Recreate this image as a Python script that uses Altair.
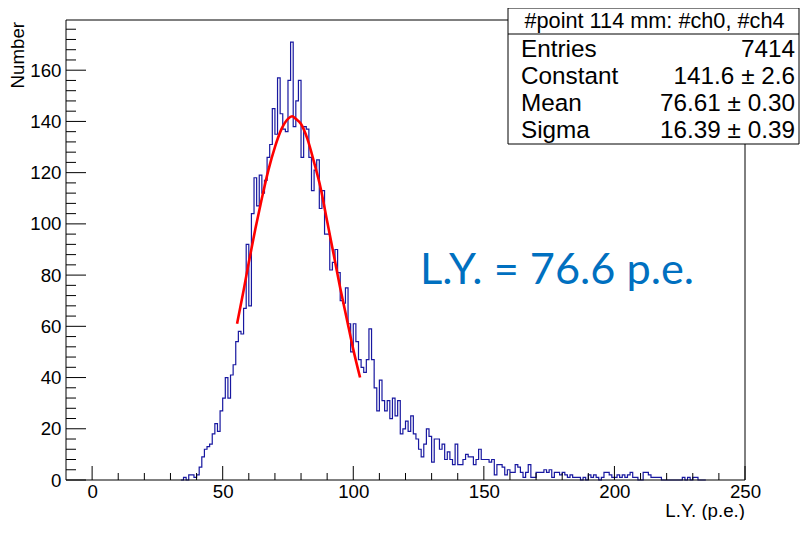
import altair as alt
import pandas as pd

# ---------------- data ----------------
FIRST_BIN = 34          # lower edge of first listed bin, bin width = 1 p.e.
counts_34_60 = [0, 1, 0, 2, 2, 1, 2, 5, 9, 12, 13, 14, 18, 22, 19, 27, 32, 40, 32, 41,
                45, 54, 58, 57, 67, 92, 68]
counts_61_88 = [104, 118, 107, 119, 112, 117, 126, 131, 145, 135, 157, 143, 137, 136,
                156, 171, 138, 148, 156, 126, 138, 137, 126, 113, 121, 125, 106, 113]
counts_89_117 = [96, 96, 82, 85, 90, 81, 70, 69, 75, 61, 50, 61, 54, 47, 44, 42, 47, 59,
                 47, 36, 27, 39, 31, 27, 31, 24, 32, 25, 31]
counts_118_153 = [18, 20, 23, 19, 25, 18, 16, 12, 9, 14, 20, 17, 7, 16, 16, 12, 14, 8,
                  11, 8, 6, 14, 6, 6, 8, 10, 9, 9, 6, 8, 12, 8, 8, 8, 7, 8]
counts_154_189 = [2, 6, 6, 5, 2, 4, 3, 3, 6, 5, 3, 1, 3, 6, 1, 1, 3, 3, 3, 4,
                  3, 4, 1, 3, 3, 2, 3, 2, 1, 2, 1, 1, 1, 0, 1, 0]
counts_190_234 = [2, 1, 2, 1, 0, 1, 3, 3, 2, 1, 1, 2, 1, 2, 1, 2, 3, 1, 1, 0,
                  0, 3, 3, 2, 1, 1, 1, 1, 0, 0, 0, 0, 0, 0, 0, 0, 1, 0, 1, 0,
                  1, 1, 0, 0, 0]

# red fit curve
fit_x = [55.5, 58, 60, 62.5, 65, 67.5, 70, 72.5, 75, 76.6, 78, 80, 82.5, 85, 87.5,
         90, 92.5, 95, 97.5, 100, 102.6]
fit_y = [61, 74, 85, 98, 110, 121, 130, 137, 141, 142, 141, 139, 133, 124, 114,
         101, 88, 75, 63, 51, 40]

stat_title = "#point 114 mm: #ch0, #ch4"
stat_names = ["Entries", "Constant", "Mean", "Sigma"]
stat_values = ["7414", "141.6 \u00b1 2.6", "76.61 \u00b1 0.30", "16.39 \u00b1 0.39"]
annotation = "L.Y. = 76.6 p.e."

x_major = [0, 50, 100, 150, 200, 250]
x_minor = [v for v in range(10, 250, 10) if v % 50 != 0]
y_major = [0, 20, 40, 60, 80, 100, 120, 140, 160]
y_minor = [v for v in range(4, 180, 4) if v % 20 != 0]
x_title = "L.Y. (p.e.)"
y_title = "Number"

# ---------------- build ----------------
counts = counts_34_60 + counts_61_88 + counts_89_117 + counts_118_153 + counts_154_189 + counts_190_234
edges = [FIRST_BIN + i for i in range(len(counts) + 1)]
hist_df = pd.DataFrame({"edge": edges, "count": counts + [counts[-1]]})
fit_df = pd.DataFrame({"x": fit_x, "y": fit_y})

W, H = 679, 460
FONT = "Liberation Sans"
xs = alt.Scale(domain=[-10, 250], nice=False, zero=False)
ys = alt.Scale(domain=[0, 179.6], nice=False, zero=False)

hist = alt.Chart(hist_df).mark_line(
    interpolate="step-after", color="#1818a0", strokeWidth=1.2
).encode(
    x=alt.X("edge:Q", scale=xs,
            axis=alt.Axis(values=x_major, ticks=False, domain=False, grid=False,
                          labelFont=FONT, labelFontSize=18.7, labelColor="black",
                          labelPadding=2, labelFlush=False, title=None)),
    y=alt.Y("count:Q", scale=ys,
            axis=alt.Axis(values=y_major, ticks=False, domain=False, grid=False,
                          labelFont=FONT, labelFontSize=18.7, labelColor="black",
                          labelPadding=5, labelFlush=False, title=None)),
)

fit = alt.Chart(fit_df).mark_line(color="#ff0000", strokeWidth=2.6, interpolate="monotone").encode(
    x=alt.X("x:Q", scale=xs), y=alt.Y("y:Q", scale=ys)
)

frame = alt.Chart().mark_rect(fill=None, stroke="black", strokeWidth=1).encode(
    x=alt.value(0), x2=alt.value(W), y=alt.value(0), y2=alt.value(H)
)

xt_major = alt.Chart(pd.DataFrame({"v": x_major})).mark_rule(color="black", strokeWidth=1).encode(
    x=alt.X("v:Q", scale=xs), y=alt.value(H), y2=alt.value(H - 14))
xt_minor = alt.Chart(pd.DataFrame({"v": x_minor})).mark_rule(color="black", strokeWidth=1).encode(
    x=alt.X("v:Q", scale=xs), y=alt.value(H), y2=alt.value(H - 7))
yt_major = alt.Chart(pd.DataFrame({"v": y_major})).mark_rule(color="black", strokeWidth=1).encode(
    y=alt.Y("v:Q", scale=ys), x=alt.value(0), x2=alt.value(20))
yt_minor = alt.Chart(pd.DataFrame({"v": y_minor})).mark_rule(color="black", strokeWidth=1).encode(
    y=alt.Y("v:Q", scale=ys), x=alt.value(0), x2=alt.value(10))

xtitle = alt.Chart().mark_text(font=FONT, fontSize=18.7, align="right", baseline="alphabetic").encode(
    x=alt.value(W), y=alt.value(H + 37), text=alt.value(x_title))
ytitle = alt.Chart().mark_text(font=FONT, fontSize=18.7, align="right", baseline="middle", angle=270).encode(
    x=alt.value(-48), y=alt.value(2), text=alt.value(y_title))

# stats box
BX0, BX1, BY0, BY1 = 442, 733, -12, 124
box = alt.Chart().mark_rect(fill="white", stroke="black", strokeWidth=1).encode(
    x=alt.value(BX0), x2=alt.value(BX1), y=alt.value(BY0), y2=alt.value(BY1))
sep = alt.Chart().mark_rule(color="black", strokeWidth=1).encode(
    x=alt.value(BX0), x2=alt.value(BX1), y=alt.value(14))
box_title = alt.Chart().mark_text(font=FONT, fontSize=21.7, align="center", baseline="middle").encode(
    x=alt.value((BX0 + BX1) / 2 + 1), y=alt.value(1), text=alt.value(stat_title))
stat_layers = []
for i, (n, v) in enumerate(zip(stat_names, stat_values)):
    yy = 30 + 27 * i
    stat_layers.append(alt.Chart().mark_text(font=FONT, fontSize=24.3, align="left", baseline="middle").encode(
        x=alt.value(BX0 + 13), y=alt.value(yy), text=alt.value(n)))
    stat_layers.append(alt.Chart().mark_text(font=FONT, fontSize=24.3, align="right", baseline="middle").encode(
        x=alt.value(BX1 - 4), y=alt.value(yy), text=alt.value(v)))

ly = alt.Chart().mark_text(font="Lato", fontSize=43.3, color="#0070c0", align="left", baseline="middle").encode(
    x=alt.value(354), y=alt.value(251), text=alt.value(annotation))

chart = alt.layer(
    hist, fit, xt_major, xt_minor, yt_major, yt_minor, frame, xtitle, ytitle,
    box, sep, box_title, *stat_layers, ly
).properties(
    width=W, height=H,
    autosize=alt.AutoSizeParams(type="none"),
    padding={"left": 58, "top": 12, "right": 55, "bottom": 40},
    background="white",
).configure_view(stroke=None)

chart.save("out.html", embed_options={"renderer": "svg", "actions": False})
